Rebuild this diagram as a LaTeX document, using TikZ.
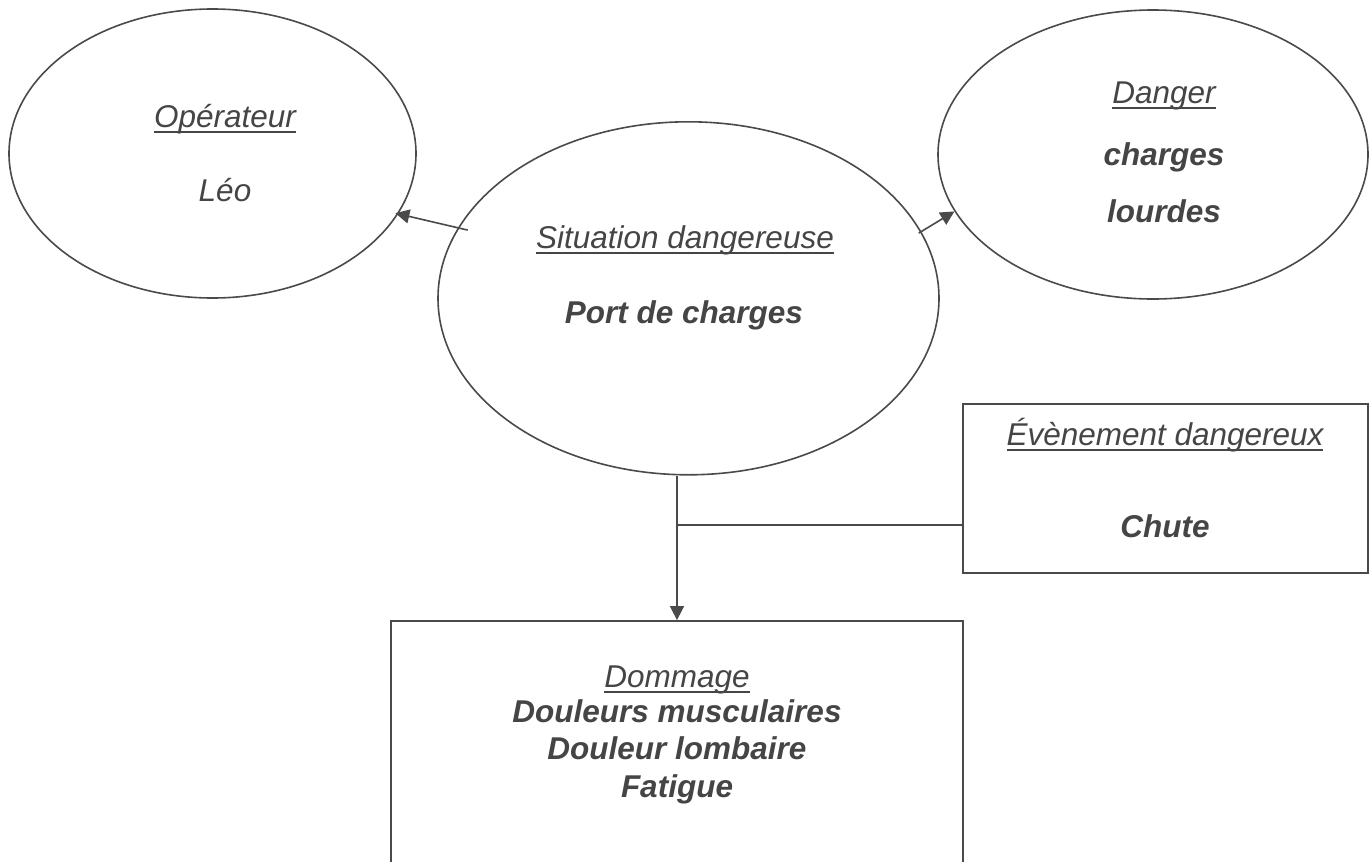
\documentclass[tikz,border=0pt]{standalone}
\usepackage{fontspec}
\setmainfont{Liberation Sans}
\usetikzlibrary{shapes.geometric,arrows.meta}
\definecolor{txt}{HTML}{454545}
\definecolor{ln}{HTML}{4A4A4A}
\newcommand\ulx[1]{\setbox0=\hbox{#1}\rlap{\rule[-0.18em]{\wd0}{0.06em}}\box0}
\tikzset{
  ell/.style={ellipse, draw=ln, line width=0.8pt, inner sep=0pt},
  boxx/.style={rectangle, draw=ln, line width=0.9pt, inner sep=0pt},
  lbl/.style={anchor=base, inner sep=0pt, text=txt, font=\fontsize{15.75pt}{18pt}\selectfont\itshape},
  val/.style={anchor=base, inner sep=0pt, text=txt, font=\fontsize{15.75pt}{18pt}\selectfont\bfseries\itshape},
  conn/.style={draw=ln, line width=0.8pt},
  arr/.style={conn, -{Triangle[length=7pt,width=7pt]}}
}
\begin{document}
\begin{tikzpicture}[x=0.5pt,y=-0.5pt]
\clip (0,0) rectangle (1372,862);
\fill[white] (0,0) rectangle (1372,862);
% shapes
\node[ell, minimum width=203.5pt, minimum height=144.5pt] (op) at (212.5,153.5) {};
\node[ell, minimum width=250.5pt, minimum height=176.5pt] (sit) at (688.5,298.3) {};
\node[ell, minimum width=215pt, minimum height=144.5pt] (dan) at (1153,154.5) {};
\node[boxx, minimum width=202.5pt, minimum height=84.5pt] (ev) at (1165.5,488.5) {};
\node[boxx, minimum width=286pt, minimum height=149.5pt] (dom) at (677,770.5) {};
% texts
\node[lbl] (opT) at (225,127) {\ulx{Opérateur}};
\node[lbl] (opV) at (225,201) {Léo};
\node[lbl] (danT) at (1164,103) {\ulx{Danger}};
\node[val] (danV1) at (1164,165) {charges};
\node[val] (danV2) at (1164,222) {lourdes};
\node[lbl] (sitT) at (685,248) {\ulx{Situation dangereuse}};
\node[val] (sitV) at (684,323) {Port de charges};
\node[lbl] (evT) at (1165,445) {\ulx{Évènement dangereux}};
\node[val] (evV) at (1165,537) {Chute};
\node[lbl] (domT) at (677,687) {\ulx{Dommage}};
\node[val] (domV1) at (677,722) {Douleurs musculaires};
\node[val] (domV2) at (677,759) {Douleur lombaire};
\node[val] (domV3) at (677,797) {Fatigue};
% connectors
\draw[arr, shorten <=-5pt, shorten >=-1.5pt] (sit.163) -- (op.342);
\draw[arr, shorten <=-1.5pt] (sit.16) -- (dan.196);
\draw[arr] (dom.north |- sit.south) -- (dom.north);
\coordinate (j) at (677,525);
\draw[conn] (ev.west |- j) -- (j);
\end{tikzpicture}
\end{document}
